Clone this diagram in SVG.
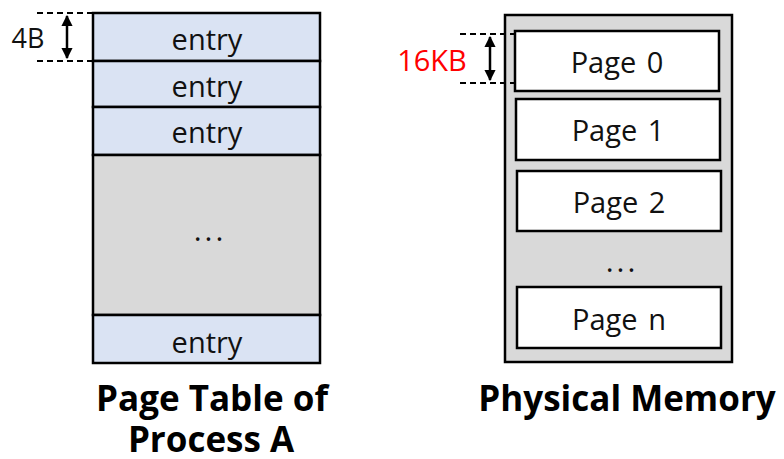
<svg xmlns="http://www.w3.org/2000/svg" width="784" height="459" viewBox="0 0 784 459">
<defs>
<style>
.box{stroke:#000;stroke-width:2.5}
.blue{fill:#dae3f3}
.gray{fill:#d9d9d9}
.white{fill:#fff}
.t{font-family:"Open Sans","Noto Sans",sans-serif;font-size:29px;fill:#111;text-anchor:middle}
.p{font-family:"Open Sans","Noto Sans",sans-serif;font-size:29px;fill:#111;text-anchor:middle;word-spacing:3px}
.dots{font-family:"Open Sans","Noto Sans",sans-serif;font-size:30px;fill:#111;text-anchor:middle;letter-spacing:3px}
.cap{font-family:"Open Sans","Noto Sans",sans-serif;font-size:35px;font-weight:bold;fill:#000;text-anchor:middle}
.dash{stroke:#000;stroke-width:2;stroke-dasharray:6,4;fill:none}
.arr{stroke:#000;stroke-width:2.5;fill:none;marker-start:url(#ah);marker-end:url(#ah)}
</style>
<marker id="ah" viewBox="0 0 10 10" refX="9" refY="5" markerWidth="4.5" markerHeight="4.5" orient="auto-start-reverse" markerUnits="strokeWidth">
<path d="M0,0 L10,5 L0,10 Z" fill="#000"/>
</marker>
</defs>
<g id="page-table">
<rect class="box blue" x="93" y="13" width="227" height="48"/>
<rect class="box blue" x="93" y="61" width="227" height="46"/>
<rect class="box blue" x="93" y="107" width="227" height="48"/>
<rect class="box gray" x="93" y="155" width="227" height="160"/>
<rect class="box blue" x="93" y="315" width="227" height="48"/>
<text class="t" x="207" y="50">entry</text>
<text class="t" x="207" y="97">entry</text>
<text class="t" x="207" y="143">entry</text>
<text class="dots" x="210" y="241">...</text>
<text class="t" x="207" y="353">entry</text>
</g>
<g id="physical-memory">
<rect class="box gray" x="505" y="15" width="227" height="347"/>
<rect class="box white" x="515" y="31" width="204" height="60"/>
<rect class="box white" x="516" y="99" width="204" height="61"/>
<rect class="box white" x="517" y="171" width="204" height="60"/>
<rect class="box white" x="517" y="287" width="204" height="61"/>
<text class="p" x="617" y="73">Page 0</text>
<text class="p" x="618" y="141">Page 1</text>
<text class="p" x="619" y="213">Page 2</text>
<text class="dots" x="622" y="272">...</text>
<text class="p" x="619" y="330">Page n</text>
</g>
<g id="connectors">
<line class="dash" x1="37" y1="13" x2="93" y2="13"/>
<line class="dash" x1="37" y1="61" x2="93" y2="61"/>
<line class="arr" x1="67" y1="16" x2="67" y2="58"/>
<line class="dash" x1="460" y1="34" x2="516" y2="34"/>
<line class="dash" x1="460" y1="83" x2="516" y2="83"/>
<line class="arr" x1="490" y1="37" x2="490" y2="80"/>
</g>
<g id="labels">
<text x="28" y="48" style="font-family:'Open Sans','Noto Sans',sans-serif;font-size:27px;fill:#111;text-anchor:middle">4B</text>
<text x="432" y="71" style="font-family:'Open Sans','Noto Sans',sans-serif;font-size:29px;fill:#ff0000;text-anchor:middle">16KB</text>
<text class="cap" x="212" y="411">Page Table of</text>
<text class="cap" x="211" y="452">Process A</text>
<text class="cap" x="627" y="411">Physical Memory</text>
</g>
</svg>
